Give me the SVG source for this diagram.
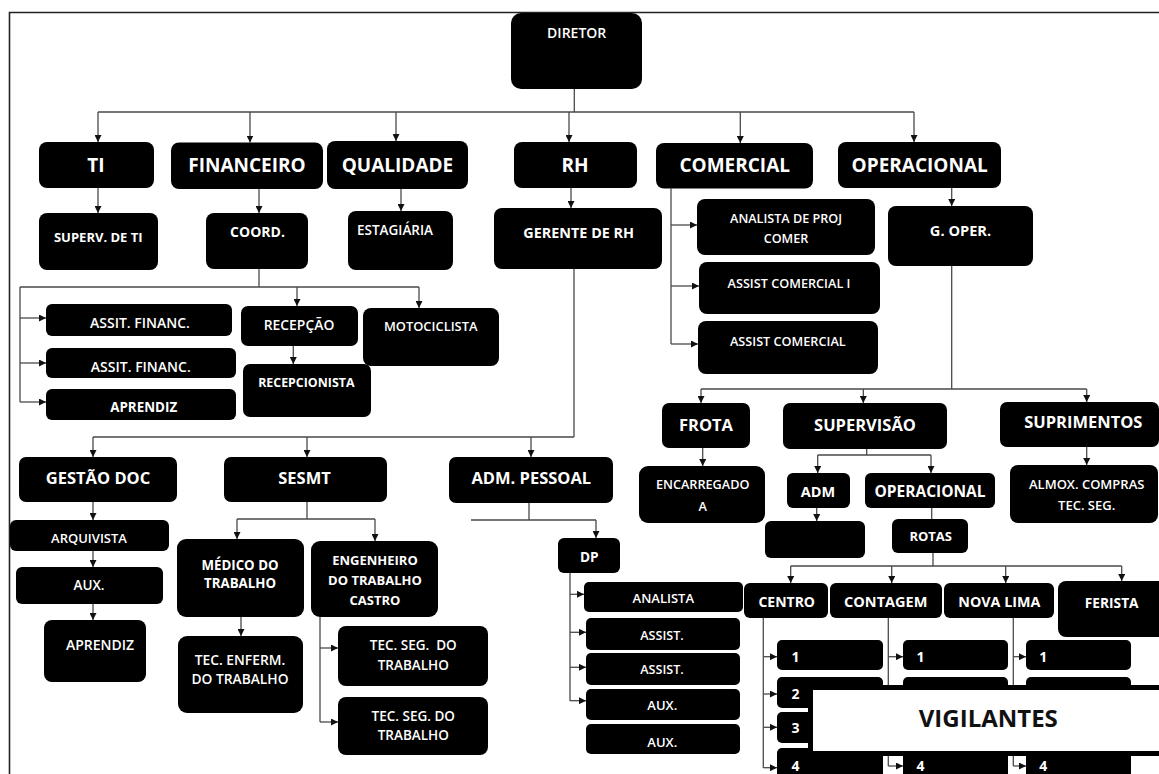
<svg xmlns="http://www.w3.org/2000/svg" width="1159" height="774" viewBox="0 0 1159 774">
<defs>
<marker id="ah" viewBox="0 0 7 7" markerWidth="7" markerHeight="7" refX="7" refY="3.5" markerUnits="userSpaceOnUse" orient="auto"><path d="M0,0 L7,3.5 L0,7 z" fill="#111"/></marker>
<style>
.n rect{fill:#000}
text{font-family:"Open Sans","Liberation Sans",sans-serif;fill:#fff;text-anchor:middle}
.h1{font-size:19px;font-weight:700}
.h2{font-size:16.5px;font-weight:700}
.b{font-size:14px;font-weight:700}
.r{font-size:13px;font-weight:600}
.d{font-size:14px;font-weight:700;text-anchor:start}
.c path{fill:none;stroke:#4a4a4a;stroke-width:1.3}
.c .a{marker-end:url(#ah)}
</style>
</defs>
<rect width="1159" height="774" fill="#fff"/>
<path d="M9.5,774 V12.5 H1159" fill="none" stroke="#222" stroke-width="1.6"/>

<g class="c" id="connectors">
<path d="M574.3,89 V112 M98,112 H914"/>
<path class="a" d="M98,112 V142"/><path class="a" d="M250,112 V142.5"/><path class="a" d="M396,112 V141"/>
<path class="a" d="M569,112 V142"/><path class="a" d="M740.3,112 V143"/><path class="a" d="M914,112 V142"/>
<path class="a" d="M98,188 V213"/><path class="a" d="M259,189 V213"/><path class="a" d="M401,189 V211"/>
<path class="a" d="M571,188 V208"/><path class="a" d="M951.7,188 V206"/>
<path d="M671,188.5 V344"/>
<path class="a" d="M671,225 H697"/><path class="a" d="M671,286 H699"/><path class="a" d="M671,344 H698"/>
<path d="M259,269 V287 M20,287 H419 M20,287 V402"/>
<path class="a" d="M297,287 V306"/><path class="a" d="M419,287 V308"/>
<path class="a" d="M20,318 H46"/><path class="a" d="M20,363 H46"/><path class="a" d="M20,402 H46"/>
<path class="a" d="M293.3,346 V364"/>
<path d="M574,269 V437 M93,437 H574"/>
<path class="a" d="M93,437 V457"/><path class="a" d="M307,437 V457"/><path class="a" d="M531,437 V457"/>
<path class="a" d="M93,502 V520"/><path class="a" d="M93,551 V567"/><path class="a" d="M93,604 V620"/>
<path d="M307,502 V519 M237,519 H375"/>
<path class="a" d="M237,519 V539"/><path class="a" d="M375,519 V541"/>
<path class="a" d="M241,617 V636"/>
<path d="M320,617 V722"/>
<path class="a" d="M320,648 H338"/><path class="a" d="M320,722 H338"/>
<path d="M529,503 V520 M471,520 H596"/>
<path class="a" d="M596,520 V538"/>
<path d="M570,573 V701"/>
<path class="a" d="M570,594.3 H584"/><path class="a" d="M570,632.3 H586"/><path class="a" d="M570,667.3 H586"/><path class="a" d="M570,700.7 H586"/>
<path d="M951.7,266 V389 M701,389 H1086.7"/>
<path class="a" d="M701,389 V403"/><path class="a" d="M863.3,389 V403"/><path class="a" d="M1086.7,389 V402"/>
<path class="a" d="M702.7,448 V466"/><path class="a" d="M1086.7,447 V465"/>
<path d="M866.7,449 V455 M817.7,455 H931"/>
<path class="a" d="M817.7,455 V473"/><path class="a" d="M931,455 V473"/>
<path class="a" d="M816.7,508 V521"/>
<path d="M931.7,508 V519"/>
<path d="M933,553 V566 M790.7,566 H1121.7"/>
<path class="a" d="M790.7,566 V583"/><path class="a" d="M891.7,566 V583"/><path class="a" d="M1005.7,566 V583"/><path class="a" d="M1121.7,566 V581"/>
<path d="M763.3,618 V768"/>
<path class="a" d="M763.3,656.7 H777"/><path class="a" d="M763.3,694 H777"/><path class="a" d="M763.3,727.3 H777"/><path class="a" d="M763.3,767.7 H777"/>
<path d="M888.3,618 V766"/>
<path class="a" d="M888.3,656.7 H903"/><path class="a" d="M888.3,766 H903"/>
<path d="M1013.3,618 V766"/>
<path class="a" d="M1013.3,656.7 H1026"/><path class="a" d="M1013.3,766 H1026"/>
</g>

<g class="n" id="diretor"><rect x="511" y="13" width="131" height="76" rx="10"/><text class="r" x="576.7" y="38.2" style="font-size:14px">DIRETOR</text></g>
<g class="n" id="ti"><rect x="39" y="142" width="115" height="46" rx="8"/><text class="h1" x="96" y="172">TI</text></g>
<g class="n" id="financeiro"><rect x="171" y="142.5" width="152" height="46.5" rx="8"/><text class="h1" x="247" y="172">FINANCEIRO</text></g>
<g class="n" id="qualidade"><rect x="327" y="141" width="141" height="48" rx="8"/><text class="h1" x="397.5" y="172">QUALIDADE</text></g>
<g class="n" id="rh"><rect x="514" y="142" width="123" height="46" rx="8"/><text class="h1" x="575" y="172">RH</text></g>
<g class="n" id="comercial"><rect x="656" y="143" width="157" height="45.5" rx="8"/><text class="h1" x="734.7" y="172">COMERCIAL</text></g>
<g class="n" id="operacional"><rect x="838" y="142" width="163" height="46" rx="8"/><text class="h1" x="919.7" y="172">OPERACIONAL</text></g>

<g class="n" id="superv-ti"><rect x="39" y="213" width="119" height="57" rx="8"/><text class="b" x="98.3" y="241.6" style="font-size:13px">SUPERV. DE TI</text></g>
<g class="n" id="coord"><rect x="206" y="213" width="102" height="56" rx="8"/><text class="b" x="257.5" y="237">COORD.</text></g>
<g class="n" id="estagiaria"><rect x="348" y="211" width="105" height="59" rx="8"/><text class="r" x="395" y="234.5" style="font-size:13.5px">ESTAGIÁRIA</text></g>
<g class="n" id="gerente-rh"><rect x="494" y="208" width="168" height="61" rx="8"/><text class="b" x="578.7" y="237.7" style="font-size:14.4px">GERENTE DE RH</text></g>
<g class="n" id="analista-proj"><rect x="697" y="199" width="178" height="56" rx="8"/><text class="r" x="786" y="223" style="font-size:12.6px">ANALISTA DE PROJ</text><text class="r" x="786" y="243" style="font-size:12.6px">COMER</text></g>
<g class="n" id="assist-com-1"><rect x="699" y="262" width="181" height="52" rx="8"/><text class="r" x="789" y="288" style="font-size:12.7px">ASSIST COMERCIAL I</text></g>
<g class="n" id="assist-com-2"><rect x="698" y="321" width="180" height="53" rx="8"/><text class="r" x="787.8" y="346.4" style="font-size:12.7px">ASSIST COMERCIAL</text></g>
<g class="n" id="g-oper"><rect x="888" y="206" width="145" height="60" rx="8"/><text class="b" x="960.5" y="236" style="font-size:14.6px">G. OPER.</text></g>

<g class="n" id="assit-financ-1"><rect x="46" y="304" width="186" height="32" rx="6"/><text class="r" x="140" y="328.3" style="font-size:14px">ASSIT. FINANC.</text></g>
<g class="n" id="assit-financ-2"><rect x="46" y="348" width="190" height="30" rx="6"/><text class="r" x="140.8" y="371.7" style="font-size:14px">ASSIT. FINANC.</text></g>
<g class="n" id="aprendiz-fin"><rect x="46" y="389" width="190" height="31" rx="6"/><text class="b" x="143.7" y="412" style="font-size:13.4px">APRENDIZ</text></g>
<g class="n" id="recepcao"><rect x="241" y="306" width="117" height="40" rx="7"/><text class="r" x="299" y="330" style="font-size:13.9px">RECEPÇÃO</text></g>
<g class="n" id="recepcionista"><rect x="243" y="364" width="128" height="53" rx="7"/><text class="b" x="306.3" y="387" style="font-size:12.4px">RECEPCIONISTA</text></g>
<g class="n" id="motociclista"><rect x="363" y="308" width="136" height="58" rx="8"/><text class="r" x="430.7" y="331" style="font-size:12.9px">MOTOCICLISTA</text></g>

<g class="n" id="gestao-doc"><rect x="19" y="457" width="158" height="45" rx="7"/><text class="h2" x="98" y="484.2">GESTÃO DOC</text></g>
<g class="n" id="arquivista"><rect x="10" y="520" width="159" height="31" rx="6"/><text class="r" x="89" y="542.5">ARQUIVISTA</text></g>
<g class="n" id="aux-doc"><rect x="16" y="567" width="147" height="37" rx="6"/><text class="r" x="89" y="590" style="font-size:13.5px">AUX.</text></g>
<g class="n" id="aprendiz-doc"><rect x="44" y="620" width="102" height="62" rx="8"/><text class="r" x="100" y="650" style="font-size:14px">APRENDIZ</text></g>

<g class="n" id="sesmt"><rect x="224" y="457" width="163" height="45" rx="7"/><text class="h2" x="304.5" y="484.2">SESMT</text></g>
<g class="n" id="medico"><rect x="177" y="539" width="127" height="78" rx="9"/><text class="b" x="240" y="569.7" style="font-size:13.3px">MÉDICO DO</text><text class="b" x="240" y="588" style="font-size:13.3px">TRABALHO</text></g>
<g class="n" id="tec-enferm"><rect x="178" y="636" width="125" height="77" rx="9"/><text class="r" x="240" y="665" style="font-size:13.8px">TEC. ENFERM.</text><text class="r" x="240" y="684.3" style="font-size:13.8px">DO TRABALHO</text></g>
<g class="n" id="engenheiro"><rect x="311" y="541" width="127" height="76" rx="9"/><text class="b" x="375" y="564.7" style="font-size:13px">ENGENHEIRO</text><text class="b" x="375" y="585.4" style="font-size:13px">DO TRABALHO</text><text class="b" x="375" y="605.4" style="font-size:13px">CASTRO</text></g>
<g class="n" id="tec-seg-1"><rect x="338" y="626" width="150" height="60" rx="8"/><text class="r" x="413.3" y="650" style="font-size:13.5px" xml:space="preserve">TEC. SEG.  DO</text><text class="r" x="413.3" y="670" style="font-size:13.5px">TRABALHO</text></g>
<g class="n" id="tec-seg-2"><rect x="338" y="697" width="150" height="58" rx="8"/><text class="r" x="413.3" y="720.7" style="font-size:13.5px">TEC. SEG. DO</text><text class="r" x="413.3" y="740" style="font-size:13.5px">TRABALHO</text></g>

<g class="n" id="adm-pessoal"><rect x="449" y="457" width="164" height="46" rx="7"/><text class="h2" x="531.3" y="484.2">ADM. PESSOAL</text></g>
<g class="n" id="dp"><rect x="558" y="538" width="62" height="35" rx="6"/><text class="b" x="589.3" y="561.6" style="font-size:13.7px">DP</text></g>
<g class="n" id="dp-analista"><rect x="584" y="582" width="159" height="30" rx="5"/><text class="r" x="663.3" y="603">ANALISTA</text></g>
<g class="n" id="dp-assist-1"><rect x="586" y="618" width="154" height="32" rx="5"/><text class="r" x="662" y="640" style="font-size:12.6px">ASSIST.</text></g>
<g class="n" id="dp-assist-2"><rect x="586" y="653" width="154" height="32" rx="5"/><text class="r" x="662" y="674" style="font-size:12.6px">ASSIST.</text></g>
<g class="n" id="dp-aux-1"><rect x="586" y="689" width="154" height="31" rx="5"/><text class="r" x="662.3" y="710">AUX.</text></g>
<g class="n" id="dp-aux-2"><rect x="586" y="724" width="154" height="30" rx="5"/><text class="r" x="662.3" y="746.5">AUX.</text></g>

<g class="n" id="frota"><rect x="662" y="403" width="88" height="45" rx="7"/><text class="h2" x="706" y="431">FROTA</text></g>
<g class="n" id="supervisao"><rect x="783" y="403" width="164" height="46" rx="7"/><text class="h2" x="865" y="431">SUPERVISÃO</text></g>
<g class="n" id="suprimentos"><rect x="1000" y="402" width="159" height="45" rx="7"/><text class="h2" x="1083.3" y="427.6">SUPRIMENTOS</text></g>
<g class="n" id="encarregado"><rect x="639" y="466" width="126" height="57" rx="9"/><text class="r" x="702.7" y="488.7" style="font-size:12.7px">ENCARREGADO</text><text class="r" x="702.7" y="510.7" style="font-size:12.7px">A</text></g>
<g class="n" id="almox"><rect x="1010" y="465" width="148" height="58" rx="8"/><text class="r" x="1086.7" y="488.8">ALMOX. COMPRAS</text><text class="r" x="1086.7" y="509.8">TEC. SEG.</text></g>
<g class="n" id="adm"><rect x="787" y="473" width="63" height="35" rx="6"/><text class="b" x="818" y="496.7" style="font-size:14.5px">ADM</text></g>
<g class="n" id="operacional-sup"><rect x="865" y="473" width="130" height="35" rx="6"/><text class="b" x="930" y="497.4" style="font-size:15.5px">OPERACIONAL</text></g>
<g class="n" id="adm-child"><rect x="765" y="521" width="100" height="37" rx="6"/></g>
<g class="n" id="rotas"><rect x="892" y="519" width="76" height="34" rx="6"/><text class="b" x="930.7" y="541.3" style="font-size:13px">ROTAS</text></g>

<g class="n" id="centro"><rect x="744" y="583" width="84" height="35" rx="6"/><text class="b" x="786.7" y="606.7">CENTRO</text></g>
<g class="n" id="contagem"><rect x="830" y="583" width="112" height="35" rx="6"/><text class="b" x="885.7" y="606.7" style="font-size:14.5px">CONTAGEM</text></g>
<g class="n" id="nova-lima"><rect x="944" y="583" width="110" height="35" rx="6"/><text class="b" x="999.3" y="606.7" style="font-size:14.3px">NOVA LIMA</text></g>
<g class="n" id="ferista"><rect x="1058" y="581" width="112" height="56" rx="8"/><text class="b" x="1111.7" y="608.3" style="font-size:13.7px">FERISTA</text></g>

<g class="n" id="centro-1"><rect x="777" y="640" width="106" height="30" rx="5"/><text class="d" x="791.5" y="662">1</text></g>
<g class="n" id="centro-2"><rect x="777" y="677" width="106" height="31" rx="5"/><text class="d" x="791.5" y="699">2</text></g>
<g class="n" id="centro-3"><rect x="777" y="712" width="106" height="31" rx="5"/><text class="d" x="791.5" y="733">3</text></g>
<g class="n" id="centro-4"><rect x="777" y="748" width="106" height="32" rx="5"/><text class="d" x="791.5" y="770.7">4</text></g>
<g class="n" id="contagem-1"><rect x="903" y="640" width="105" height="30" rx="5"/><text class="d" x="916.5" y="662">1</text></g>
<g class="n" id="contagem-2"><rect x="903" y="677" width="105" height="31" rx="5"/></g>
<g class="n" id="contagem-4"><rect x="903" y="748" width="105" height="32" rx="5"/><text class="d" x="916.5" y="770.7">4</text></g>
<g class="n" id="nova-lima-1"><rect x="1026" y="640" width="105" height="30" rx="5"/><text class="d" x="1039.3" y="662">1</text></g>
<g class="n" id="nova-lima-2"><rect x="1026" y="677" width="105" height="31" rx="5"/></g>
<g class="n" id="nova-lima-4"><rect x="1026" y="748" width="105" height="32" rx="5"/><text class="d" x="1039.3" y="770.7">4</text></g>

<g id="vigilantes"><rect x="810.5" y="687.5" width="360" height="66" fill="#fff" stroke="#000" stroke-width="5"/><text x="988.3" y="727" style="font-size:24px;font-weight:700;fill:#111">VIGILANTES</text></g>
</svg>
